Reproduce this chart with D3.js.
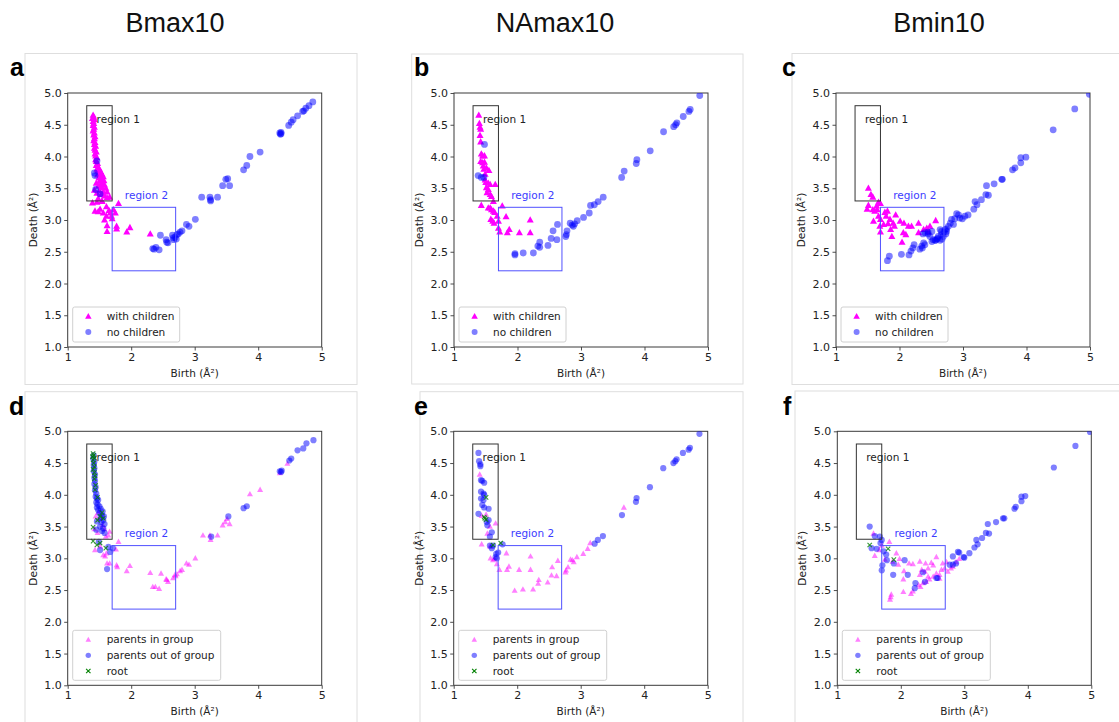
<!DOCTYPE html>
<html><head><meta charset="utf-8">
<script src="https://cdn.jsdelivr.net/npm/d3@7"></script>
<style>
body{margin:0;background:#fff;}
text{font-family:"DejaVu Sans",sans-serif;}
</style></head>
<body><svg id="chart" width="1119" height="722"></svg>
<script>
// ---------- tick labels / titles ----------
const columnTitles = ["Bmax10", "NAmax10", "Bmin10"];
const panelLetters = ["a", "b", "c", "d", "e", "f"];
const xTicks = [1, 2, 3, 4, 5];
const yTicks = [1.0, 1.5, 2.0, 2.5, 3.0, 3.5, 4.0, 4.5, 5.0];
const topLegend = ["with children", "no children"];
const bottomLegend = ["parents in group", "parents out of group", "root"];
const region1 = [1.3, 1.7, 3.3, 4.8];   // x0,x1,y0,y1
const region2 = [1.7, 2.7, 2.2, 3.2];

// ---------- panel a (Bmax10) ----------
const aWithChildren = [[1.40,4.65],[1.41,4.62],[1.39,4.60],[1.42,4.58],[1.40,4.55],[1.41,4.52],[1.40,4.49],[1.42,4.46],[1.41,4.43],[1.40,4.40],[1.42,4.37],[1.41,4.34],[1.43,4.31],[1.42,4.28],[1.41,4.25],[1.43,4.22],[1.42,4.19],[1.44,4.16],[1.42,4.13],[1.43,4.10],[1.45,4.07],[1.43,4.04],[1.44,4.01],[1.46,3.98],[1.44,3.95],[1.45,3.92],[1.47,3.89],[1.45,3.86],[1.48,3.83],[1.46,3.80],[1.50,3.80],[1.47,3.77],[1.52,3.76],[1.49,3.74],[1.54,3.72],[1.47,3.71],[1.51,3.69],[1.56,3.68],[1.49,3.66],[1.53,3.64],[1.57,3.62],[1.50,3.61],[1.55,3.59],[1.45,3.58],[1.52,3.56],[1.58,3.55],[1.48,3.53],[1.54,3.51],[1.60,3.50],[1.42,3.47],[1.50,3.46],[1.56,3.44],[1.62,3.44],[1.46,3.42],[1.53,3.40],[1.58,3.38],[1.66,3.36],[1.62,3.35],[1.48,3.34],[1.54,3.30],[1.39,3.27],[1.46,3.28],[1.54,3.29],[1.80,3.26],[1.61,3.21],[1.51,3.17],[1.43,3.14],[1.48,3.13],[1.56,3.11],[1.67,3.11],[1.75,3.11],[1.72,3.16],[1.61,3.06],[1.69,3.06],[1.58,3.00],[1.62,2.91],[1.62,2.82],[1.77,2.90],[1.77,2.86],[1.93,2.81],[1.98,2.88],[2.30,2.78],[1.65,3.15],[1.70,3.02]];
const aNoChildren = [[4.86,4.86],[4.80,4.80],[4.75,4.76],[4.72,4.72],[4.70,4.71],[4.62,4.64],[4.55,4.58],[4.52,4.54],[4.48,4.49],[4.36,4.38],[4.35,4.35],[4.36,4.36],[4.34,4.37],[4.03,4.07],[3.87,4.00],[3.82,3.86],[3.77,3.79],[3.52,3.65],[3.49,3.64],[3.44,3.54],[3.55,3.54],[3.36,3.36],[3.24,3.36],[3.11,3.36],[3.25,3.32],[3.25,3.30],[3.01,3.01],[2.87,2.93],[2.91,2.90],[2.80,2.83],[2.77,2.81],[2.72,2.77],[2.69,2.73],[2.66,2.72],[2.67,2.69],[2.65,2.76],[2.74,2.78],[2.71,2.70],[2.55,2.69],[2.56,2.65],[2.58,2.64],[2.46,2.76],[2.34,2.55],[2.39,2.57],[2.44,2.53],[2.36,2.54],[1.46,3.93],[1.42,3.74],[1.43,3.70],[1.44,3.48],[1.51,3.41]];

// ---------- panel b (NAmax10) ----------
const bWithChildren = [[1.39,4.65],[1.40,4.52],[1.41,4.46],[1.42,4.43],[1.41,4.33],[1.42,4.23],[1.43,4.04],[1.45,4.01],[1.48,4.01],[1.42,3.92],[1.45,3.90],[1.48,3.91],[1.46,3.85],[1.47,3.80],[1.51,3.82],[1.55,3.78],[1.49,3.72],[1.49,3.63],[1.50,3.59],[1.54,3.58],[1.57,3.56],[1.51,3.51],[1.54,3.48],[1.52,3.43],[1.57,3.40],[1.59,3.37],[1.65,3.56],[1.62,3.29],[1.43,3.23],[1.57,3.19],[1.59,3.16],[1.64,3.12],[1.62,3.14],[1.54,3.19],[1.61,2.98],[1.63,2.95],[1.58,3.01],[1.68,3.06],[1.70,2.98],[1.70,2.87],[1.72,2.81],[1.76,3.22],[1.82,3.05],[1.84,2.80],[1.87,2.85],[2.03,2.80],[2.20,3.00],[2.20,2.80]];
const bNoChildren = [[4.87,4.96],[4.72,4.74],[4.70,4.71],[4.61,4.63],[4.51,4.53],[4.49,4.50],[4.46,4.47],[4.30,4.39],[4.09,4.09],[3.88,3.95],[3.87,3.89],[3.68,3.77],[3.64,3.67],[3.35,3.36],[3.27,3.29],[3.21,3.24],[3.15,3.23],[3.13,3.11],[3.04,3.04],[2.94,2.99],[2.90,2.94],[2.83,2.95],[2.86,2.92],[2.88,2.90],[2.78,2.83],[2.77,2.77],[2.76,2.74],[2.63,2.93],[2.56,2.83],[2.62,2.69],[2.53,2.71],[2.48,2.60],[2.35,2.65],[2.32,2.59],[2.35,2.57],[2.25,2.48],[2.09,2.48],[1.96,2.45],[1.96,2.47],[1.48,4.19],[1.38,3.70],[1.43,3.67],[1.47,3.67]];

// ---------- panel c (Bmin10) ----------
const cWithChildren = [[1.51,3.50],[1.55,3.40],[1.58,3.36],[1.51,3.23],[1.49,3.17],[1.58,3.16],[1.61,3.14],[1.65,3.16],[1.64,3.22],[1.67,3.28],[1.70,3.26],[1.59,2.98],[1.67,3.06],[1.70,3.01],[1.69,2.90],[1.70,2.81],[1.75,2.93],[1.77,3.12],[1.81,3.14],[1.79,3.06],[1.85,3.01],[1.82,2.94],[1.86,2.85],[1.90,2.95],[1.94,3.08],[1.92,2.90],[1.88,2.74],[2.01,2.98],[2.07,2.95],[2.14,2.90],[2.19,2.90],[2.30,2.95],[2.06,2.80],[2.10,2.77],[2.04,2.65],[2.30,2.80],[2.38,2.85],[2.43,2.87],[2.48,2.90],[2.57,2.99],[2.45,2.81]];
const cNoChildren = [[4.99,4.98],[4.76,4.75],[4.42,4.42],[3.99,3.99],[3.91,3.98],[3.91,3.90],[3.82,3.82],[3.78,3.79],[3.62,3.64],[3.61,3.64],[3.49,3.57],[3.37,3.54],[3.36,3.40],[3.40,3.39],[3.29,3.32],[3.22,3.24],[3.19,3.29],[3.17,3.17],[3.08,3.08],[3.03,3.06],[2.99,3.02],[2.95,3.03],[2.90,3.10],[2.93,3.08],[2.87,3.02],[2.82,3.01],[2.80,2.95],[2.85,2.93],[2.77,2.90],[2.74,2.86],[2.72,2.85],[2.66,2.82],[2.64,2.85],[2.70,2.81],[2.73,2.78],[2.66,2.77],[2.61,2.74],[2.59,2.70],[2.53,2.69],[2.56,2.68],[2.51,2.66],[2.48,2.74],[2.51,2.82],[2.45,2.81],[2.40,2.80],[2.37,2.78],[2.45,2.78],[2.38,2.64],[2.35,2.59],[2.32,2.54],[2.36,2.56],[2.40,2.61],[2.23,2.61],[2.21,2.56],[2.18,2.51],[2.15,2.45],[2.03,2.46],[1.84,2.43],[1.81,2.36],[2.64,2.68],[2.57,2.68],[2.69,2.74],[2.74,2.82],[2.60,2.71],[2.67,2.70]];

// ---------- panel d (Bmax10) ----------
const dInGroup = [[4.46,4.49],[4.34,4.34],[4.03,4.08],[3.87,4.01],[3.48,3.57],[3.44,3.52],[3.55,3.54],[3.51,3.62],[3.36,3.36],[3.24,3.36],[3.13,3.36],[3.25,3.29],[3.01,3.00],[2.87,2.92],[2.91,2.90],[2.80,2.82],[2.77,2.80],[2.72,2.75],[2.69,2.74],[2.66,2.69],[2.70,2.72],[2.56,2.66],[2.58,2.63],[2.55,2.67],[2.47,2.76],[2.38,2.55],[2.34,2.55],[2.44,2.52],[2.30,2.77],[1.98,2.88],[1.93,2.80],[1.77,2.89],[1.78,2.86],[1.80,3.26],[1.76,3.14],[1.61,3.08],[1.62,2.92],[1.66,2.92],[1.59,3.03],[1.60,3.34],[1.64,3.36],[1.43,3.13],[1.51,3.19],[1.56,3.05],[1.48,3.72],[1.44,3.66],[1.55,3.52],[1.42,3.46],[1.50,3.62],[1.47,3.40],[1.58,3.46],[1.66,3.42]];
const dOutGroup = [[1.41,4.62],[1.40,4.57],[1.42,4.52],[1.41,4.47],[1.42,4.42],[1.41,4.37],[1.43,4.32],[1.42,4.27],[1.43,4.22],[1.42,4.17],[1.44,4.12],[1.43,4.07],[1.45,4.02],[1.44,3.97],[1.46,3.94],[1.48,3.92],[1.45,3.88],[1.47,3.85],[1.50,3.82],[1.46,3.80],[1.52,3.78],[1.48,3.76],[1.55,3.74],[1.50,3.71],[1.54,3.68],[1.57,3.66],[1.52,3.64],[1.56,3.60],[1.53,3.57],[1.46,3.58],[1.58,3.54],[1.51,3.50],[1.56,3.47],[1.45,3.45],[1.54,3.43],[1.58,3.40],[1.49,3.26],[1.51,3.13],[1.64,3.18],[1.67,3.10],[1.71,3.16],[1.62,2.83],[4.87,4.86],[4.76,4.81],[4.71,4.73],[4.62,4.70],[4.52,4.57],[4.49,4.54],[4.37,4.38],[4.34,4.37],[4.36,4.36],[3.82,3.82],[3.77,3.79],[3.53,3.66],[3.26,3.34]];
const dRoot = [[1.40,4.65],[1.41,4.62],[1.39,4.60],[1.42,4.58],[1.40,4.55],[1.41,4.50],[1.42,4.44],[1.40,4.40],[1.42,4.35],[1.43,4.30],[1.42,4.25],[1.44,4.15],[1.43,4.08],[1.47,3.96],[1.54,3.72],[1.51,3.66],[1.56,3.63],[1.47,3.60],[1.40,3.49],[1.40,3.27],[1.46,3.21],[1.51,3.24],[1.60,3.16]];

// ---------- panel e (NAmax10) ----------
const eInGroup = [[1.41,4.32],[1.44,3.67],[1.51,3.69],[1.57,3.50],[1.66,3.55],[1.53,3.39],[1.44,3.22],[1.57,3.19],[1.58,3.00],[1.62,2.97],[1.64,2.99],[1.68,2.91],[1.72,2.82],[1.83,3.08],[1.84,2.82],[1.87,2.87],[2.03,2.82],[2.21,3.03],[2.21,2.82],[1.96,2.49],[2.09,2.51],[2.25,2.51],[2.34,2.66],[2.33,2.60],[2.48,2.62],[2.54,2.73],[2.55,2.86],[2.62,2.72],[2.64,2.96],[2.77,2.81],[2.76,2.78],[2.80,2.86],[2.84,2.98],[2.87,2.97],[2.89,2.94],[2.94,3.02],[3.04,3.07],[3.11,3.15],[3.15,3.24],[3.68,3.80]];
const eOutGroup = [[4.87,4.96],[4.72,4.74],[4.70,4.71],[4.61,4.66],[4.51,4.56],[4.49,4.53],[4.46,4.50],[4.30,4.42],[4.09,4.12],[3.88,3.95],[3.87,3.89],[3.65,3.68],[3.35,3.35],[3.27,3.29],[3.22,3.23],[1.39,4.66],[1.40,4.53],[1.42,4.48],[1.42,4.45],[1.43,4.23],[1.45,4.22],[1.48,4.19],[1.43,4.05],[1.47,4.02],[1.48,4.00],[1.43,3.94],[1.47,3.92],[1.45,3.84],[1.48,3.80],[1.55,3.78],[1.39,3.70],[1.55,3.60],[1.53,3.52],[1.52,3.57],[1.60,3.41],[1.57,3.34],[1.62,3.20],[1.57,3.20],[1.60,3.16],[1.67,3.07],[1.66,3.02],[1.68,3.00],[1.70,3.09],[1.77,3.22]];
const eRoot = [[1.51,3.96],[1.48,3.65],[1.51,3.61],[1.49,3.63],[1.62,3.21],[1.74,3.24]];

// ---------- panel f (Bmin10) ----------
const fInGroup = [[1.57,3.39],[1.59,3.04],[1.66,3.13],[1.75,2.98],[1.82,3.26],[1.93,3.08],[1.98,2.99],[1.84,2.39],[1.83,2.35],[1.85,2.43],[2.04,2.47],[2.16,2.44],[2.19,2.48],[2.04,2.67],[2.05,2.80],[2.13,2.92],[2.19,2.91],[2.30,2.95],[2.33,2.82],[2.39,2.92],[2.48,2.93],[2.56,3.02],[2.51,2.89],[2.43,2.84],[2.38,2.79],[2.30,2.74],[2.35,2.61],[2.31,2.55],[2.28,2.58],[2.40,2.63],[2.45,2.67],[2.51,2.71],[2.56,2.76],[2.61,2.74],[2.64,2.82],[2.69,2.84],[2.66,2.92],[2.72,2.94],[2.74,2.79],[2.79,2.84],[2.82,2.87],[2.87,2.94],[2.92,2.99],[2.43,2.71],[2.61,2.68],[1.70,3.20],[1.87,2.95],[1.96,2.90]];
const fOutGroup = [[4.98,4.99],[4.75,4.77],[4.41,4.43],[3.96,3.98],[3.90,3.97],[3.90,3.90],[3.81,3.81],[3.79,3.78],[3.63,3.63],[3.61,3.63],[3.50,3.57],[3.37,3.54],[3.34,3.40],[3.39,3.39],[3.28,3.32],[3.21,3.22],[3.19,3.29],[3.16,3.17],[3.08,3.08],[3.00,3.01],[2.99,3.02],[2.92,3.09],[2.90,3.10],[2.82,3.03],[2.87,2.92],[2.77,2.90],[2.82,2.90],[2.58,2.69],[2.56,2.69],[2.38,2.63],[2.35,2.78],[2.23,2.61],[2.22,2.53],[2.11,2.74],[2.06,2.97],[1.89,2.92],[1.88,2.74],[1.77,3.06],[1.78,2.97],[1.71,2.89],[1.70,2.81],[1.68,3.24],[1.67,3.34],[1.70,3.29],[1.59,3.35],[1.51,3.50],[1.54,3.16],[1.62,3.15],[1.73,3.11]];
const fRoot = [[1.51,3.21],[1.80,3.15],[1.89,2.98]];

// ---------- layout ----------
const svg = d3.select("#chart");
const AX = 254;
const colors = {mag:"#ff00ff", blue:"#0000ff", green:"#008000", spine:"#3a3a3a"};

const panels = [
  {letter:panelLetters[0], left:67.7, top:93, frame:[25,53.5,332,331], lx:10, ly:76, top_row:true, s1:aWithChildren, s2:aNoChildren},
  {letter:panelLetters[1], left:454, top:93, frame:[411.7,54,331.3,330], lx:414, ly:76, top_row:true, s1:bWithChildren, s2:bNoChildren},
  {letter:panelLetters[2], left:836, top:93, frame:[792,53.5,340,331], lx:782, ly:76, top_row:true, s1:cWithChildren, s2:cNoChildren},
  {letter:panelLetters[3], left:67.7, top:431.3, frame:[25,391.7,332,340], lx:9, ly:415, top_row:false, s1:dInGroup, s2:dOutGroup, s3:dRoot},
  {letter:panelLetters[4], left:453.7, top:431.3, frame:[420,391.7,323,340], lx:414, ly:415, top_row:false, s1:eInGroup, s2:eOutGroup, s3:eRoot},
  {letter:panelLetters[5], left:837.3, top:431.3, frame:[795,391,340,340], lx:783, ly:415, top_row:false, s1:fInGroup, s2:fOutGroup, s3:fRoot}
];

// column titles
const titleX = [175, 555, 939];
columnTitles.forEach((t,i)=>{
  svg.append("text").attr("x", titleX[i]).attr("y", 32).attr("text-anchor","middle")
    .style("font-family","'Liberation Sans',Arial,sans-serif").style("font-size","27px").attr("fill","#111").text(t);
});

function triPath(cx, cy, w) {
  const h = w * 0.9;
  return `M${cx},${cy - h*0.6}L${cx + w/2},${cy + h*0.4}L${cx - w/2},${cy + h*0.4}Z`;
}
function xPath(cx, cy, r) {
  return `M${cx-r},${cy-r}L${cx+r},${cy+r}M${cx-r},${cy+r}L${cx+r},${cy-r}`;
}

panels.forEach((p, idx) => {
  // image frame
  svg.append("rect").attr("x", p.frame[0]).attr("y", p.frame[1]).attr("width", p.frame[2]).attr("height", p.frame[3])
    .attr("fill","none").attr("stroke","#dedede").attr("stroke-width",1);
  // panel letter
  svg.append("text").attr("x", p.lx).attr("y", p.ly)
    .style("font-family","'Liberation Sans',Arial,sans-serif").style("font-weight","bold").style("font-size","25px")
    .attr("fill","#000").text(p.letter);

  const g = svg.append("g").attr("transform", `translate(${p.left},${p.top})`);
  const x = d3.scaleLinear().domain([1,5]).range([0, AX]);
  const y = d3.scaleLinear().domain([1,5]).range([AX, 0]);

  const clipId = "clip" + idx;
  g.append("clipPath").attr("id", clipId).append("rect").attr("width", AX).attr("height", AX);

  // axes
  const xa = g.append("g").attr("transform", `translate(0,${AX})`)
    .call(d3.axisBottom(x).tickValues(xTicks).tickFormat(d3.format("d")).tickSize(3.5).tickPadding(2.5));
  const ya = g.append("g")
    .call(d3.axisLeft(y).tickValues(yTicks).tickFormat(d3.format(".1f")).tickSize(3.5).tickPadding(2.5));
  [xa, ya].forEach(a => {
    a.select(".domain").remove();
    a.selectAll("line").attr("stroke", colors.spine).attr("stroke-width", 0.9);
    a.selectAll("text").style("font-size","11px").style("font-family","'DejaVu Sans',sans-serif").attr("fill","#222");
  });
  g.append("rect").attr("width", AX).attr("height", AX).attr("fill","none").attr("stroke", colors.spine).attr("stroke-width", 1);

  // axis labels
  g.append("text").attr("x", AX/2).attr("y", AX + 30).attr("text-anchor","middle")
    .style("font-size","10.5px").attr("fill","#222").text("Birth (Å²)");
  g.append("text").attr("transform", `translate(-31,${AX/2}) rotate(-90)`).attr("text-anchor","middle")
    .style("font-size","10.5px").attr("fill","#222").text("Death (Å²)");

  const pg = g.append("g").attr("clip-path", `url(#${clipId})`);
  const triW = p.top_row ? 7 : 6;
  const cr = p.top_row ? 3.4 : 3.1;
  // series 1 triangles
  pg.selectAll("path.s1").data(p.s1).join("path").attr("class","s1")
    .attr("d", d => triPath(x(d[0]), y(d[1]), triW))
    .attr("fill", colors.mag).attr("fill-opacity", p.top_row ? 1 : 0.5);
  // series 2 circles
  pg.selectAll("circle.s2").data(p.s2).join("circle").attr("class","s2")
    .attr("cx", d => x(d[0])).attr("cy", d => y(d[1])).attr("r", cr)
    .attr("fill", colors.blue).attr("fill-opacity", 0.5);
  // series 3 crosses
  if (p.s3) {
    pg.selectAll("path.s3").data(p.s3).join("path").attr("class","s3")
      .attr("d", d => xPath(x(d[0]), y(d[1]), 2.2))
      .attr("stroke", colors.green).attr("stroke-width", 1.1).attr("stroke-opacity", 0.8).attr("fill","none");
  }

  // regions
  g.append("rect").attr("x", x(region1[0])).attr("y", y(region1[3]))
    .attr("width", x(region1[1]) - x(region1[0])).attr("height", y(region1[2]) - y(region1[3]))
    .attr("fill","none").attr("stroke","#333").attr("stroke-width",1);
  g.append("text").attr("x", x(1.455)).attr("y", y(4.53)).style("font-size","10.5px").attr("fill","#222").text("region 1");
  g.append("rect").attr("x", x(region2[0])).attr("y", y(region2[3]))
    .attr("width", x(region2[1]) - x(region2[0])).attr("height", y(region2[2]) - y(region2[3]))
    .attr("fill","none").attr("stroke","#5050ff").attr("stroke-width",1);
  g.append("text").attr("x", x(1.9)).attr("y", y(3.33)).style("font-size","10.5px").attr("fill","#3c3cff").text("region 2");

  // legend
  const labels = p.top_row ? topLegend : bottomLegend;
  const lw = p.top_row ? 107 : 148;
  const lh = p.top_row ? 35 : 50;
  const lg = g.append("g").attr("transform", `translate(5,${AX - 5 - lh})`);
  lg.append("rect").attr("width", lw).attr("height", lh).attr("rx", 2)
    .attr("fill","#fff").attr("fill-opacity",0.8).attr("stroke","#d0d0d0").attr("stroke-width",1);
  labels.forEach((lab, i) => {
    const cy = 9.4 + i * 15.65;
    if (i === 0) lg.append("path").attr("d", triPath(15.6, cy, triW - 0.5)).attr("fill", colors.mag).attr("fill-opacity", p.top_row ? 1 : 0.5);
    if (i === 1) lg.append("circle").attr("cx", 15.6).attr("cy", cy).attr("r", cr - 0.4).attr("fill", colors.blue).attr("fill-opacity", 0.5);
    if (i === 2) lg.append("path").attr("d", xPath(15.6, cy, 2.2)).attr("stroke", colors.green).attr("stroke-width",1.1).attr("fill","none");
    lg.append("text").attr("x", 34).attr("y", cy + 3.8).style("font-size","10.5px").attr("fill","#222").text(lab);
  });
});
</script>
</body></html>
